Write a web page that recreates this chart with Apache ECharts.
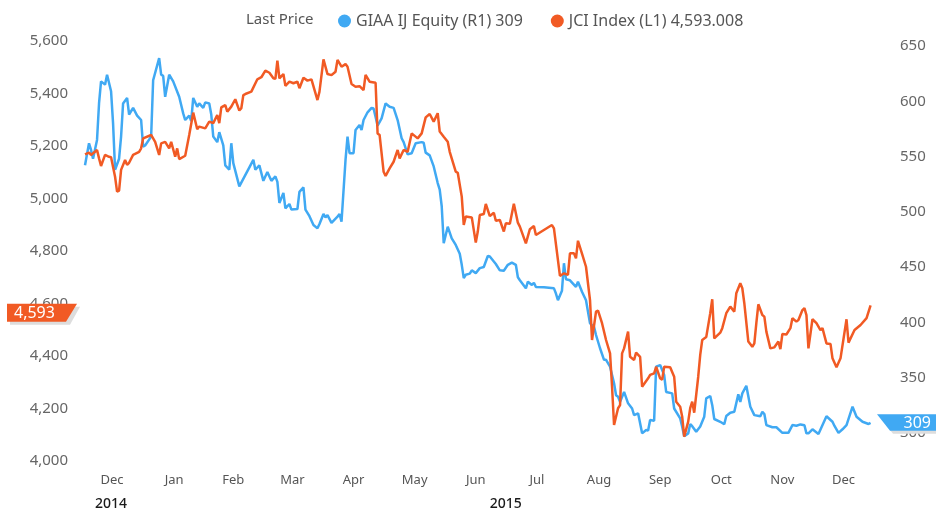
<!DOCTYPE html>
<html>
<head>
<meta charset="utf-8">
<title>GIAA IJ Equity vs JCI Index</title>
<script src="https://cdn.jsdelivr.net/npm/echarts/dist/echarts.min.js"></script>
<style>
    html, body { margin: 0; padding: 0; background: #fff; }
    #chart { width: 936px; height: 513px; }
</style>
</head>
<body>
<div id="chart"></div>
<script>
// 图例与标签
var legendTitle = 'Last Price';
var giaaName = 'GIAA IJ Equity (R1) 309';
var jciName = 'JCI Index (L1) 4,593.008';
var monthNames = ['Jan', 'Feb', 'Mar', 'Apr', 'May', 'Jun', 'Jul', 'Aug', 'Sep', 'Oct', 'Nov', 'Dec'];
var yearLabels = [['2014-12-16', '2014'], ['2015-07-01', '2015']];
var rightTicks = [300, 350, 400, 450, 500, 550, 600, 650];
var jciLast = 4593.008;
var giaaLast = 309;

// GIAA IJ Equity (右轴)
var giaaData = [
    ['2014-12-03', 542], ['2014-12-05', 562], ['2014-12-06', 556], ['2014-12-07', 548], ['2014-12-09', 565], ['2014-12-10', 598],
    ['2014-12-11', 618], ['2014-12-13', 615], ['2014-12-14', 624], ['2014-12-16', 609], ['2014-12-17', 580], ['2014-12-18', 538],
    ['2014-12-20', 548], ['2014-12-21', 568], ['2014-12-22', 598], ['2014-12-24', 603], ['2014-12-25', 588], ['2014-12-27', 594],
    ['2014-12-29', 587], ['2014-12-31', 583],
    ['2015-01-01', 559], ['2015-01-02', 560], ['2015-01-05', 568], ['2015-01-06', 619], ['2015-01-09', 639], ['2015-01-10', 624],
    ['2015-01-11', 623], ['2015-01-12', 604], ['2015-01-14', 624], ['2015-01-16', 618], ['2015-01-19', 604], ['2015-01-21', 589],
    ['2015-01-22', 583], ['2015-01-24', 587], ['2015-01-25', 582], ['2015-01-26', 603], ['2015-01-28', 595], ['2015-01-29', 598],
    ['2015-01-31', 594],
    ['2015-02-01', 599], ['2015-02-03', 598], ['2015-02-04', 588], ['2015-02-05', 568], ['2015-02-07', 563], ['2015-02-08', 572],
    ['2015-02-10', 560], ['2015-02-11', 542], ['2015-02-13', 538], ['2015-02-14', 562], ['2015-02-15', 544], ['2015-02-18', 523],
    ['2015-02-25', 547], ['2015-02-26', 538], ['2015-02-28', 542],
    ['2015-03-02', 528], ['2015-03-04', 536], ['2015-03-06', 528], ['2015-03-08', 532], ['2015-03-09', 527], ['2015-03-10', 508],
    ['2015-03-12', 517], ['2015-03-13', 503], ['2015-03-15', 507], ['2015-03-16', 502], ['2015-03-19', 502.5], ['2015-03-20', 518],
    ['2015-03-22', 522], ['2015-03-23', 502], ['2015-03-25', 496], ['2015-03-27', 488], ['2015-03-29', 485], ['2015-03-30', 489],
    ['2015-04-01', 498], ['2015-04-02', 495], ['2015-04-03', 497], ['2015-04-05', 490], ['2015-04-08', 495.5], ['2015-04-09', 498],
    ['2015-04-10', 491], ['2015-04-12', 547], ['2015-04-13', 568], ['2015-04-14', 553], ['2015-04-16', 553], ['2015-04-17', 574],
    ['2015-04-19', 578.5], ['2015-04-20', 574], ['2015-04-21', 583], ['2015-04-23', 590], ['2015-04-25', 594], ['2015-04-26', 593.5],
    ['2015-04-28', 578], ['2015-04-30', 584.5],
    ['2015-05-02', 598], ['2015-05-04', 595], ['2015-05-06', 594], ['2015-05-08', 583], ['2015-05-10', 566.5], ['2015-05-11', 563],
    ['2015-05-13', 552], ['2015-05-15', 553], ['2015-05-17', 562], ['2015-05-20', 563], ['2015-05-21', 562.5], ['2015-05-22', 553.5],
    ['2015-05-24', 551], ['2015-05-26', 541], ['2015-05-28', 526], ['2015-05-29', 520], ['2015-05-30', 505], ['2015-05-31', 471.5],
    ['2015-06-02', 486.5], ['2015-06-04', 476], ['2015-06-06', 470], ['2015-06-08', 462], ['2015-06-09', 452], ['2015-06-10', 440],
    ['2015-06-11', 443], ['2015-06-13', 444], ['2015-06-14', 447], ['2015-06-16', 444.5], ['2015-06-18', 449], ['2015-06-20', 450],
    ['2015-06-22', 460], ['2015-06-23', 459.5], ['2015-06-25', 455], ['2015-06-26', 452.7], ['2015-06-28', 447], ['2015-06-30', 446.7],
    ['2015-07-02', 452], ['2015-07-04', 454], ['2015-07-06', 452], ['2015-07-07', 440.7], ['2015-07-08', 438], ['2015-07-11', 430.7],
    ['2015-07-12', 436.7], ['2015-07-14', 433.7], ['2015-07-15', 435.8], ['2015-07-16', 432], ['2015-07-20', 431.7], ['2015-07-25', 430.7],
    ['2015-07-26', 426], ['2015-07-27', 420], ['2015-07-29', 428.5], ['2015-07-30', 453.4], ['2015-07-31', 439],
    ['2015-08-02', 438], ['2015-08-05', 432], ['2015-08-06', 436.7], ['2015-08-08', 427.7], ['2015-08-10', 420], ['2015-08-12', 399],
    ['2015-08-14', 396], ['2015-08-15', 388.5], ['2015-08-17', 376.5], ['2015-08-19', 366], ['2015-08-20', 366], ['2015-08-22', 359.8],
    ['2015-08-24', 344.8], ['2015-08-25', 334], ['2015-08-26', 332.6], ['2015-08-27', 328], ['2015-08-29', 337], ['2015-08-31', 326.7],
    ['2015-09-02', 322], ['2015-09-03', 316], ['2015-09-05', 317.6], ['2015-09-07', 299.5], ['2015-09-09', 302.5], ['2015-09-10', 302],
    ['2015-09-11', 311.6], ['2015-09-13', 311], ['2015-09-14', 359.8], ['2015-09-16', 361.3], ['2015-09-18', 352.3], ['2015-09-19', 337],
    ['2015-09-22', 335.7], ['2015-09-23', 322], ['2015-09-26', 313], ['2015-09-27', 305.5], ['2015-09-28', 297], ['2015-09-30', 299.5],
    ['2015-10-01', 308], ['2015-10-02', 306], ['2015-10-04', 301], ['2015-10-06', 305.7], ['2015-10-08', 314.6], ['2015-10-09', 331.2],
    ['2015-10-11', 333.3], ['2015-10-12', 325], ['2015-10-13', 312.5], ['2015-10-16', 310], ['2015-10-18', 307.7], ['2015-10-19', 315.2],
    ['2015-10-21', 318.2], ['2015-10-23', 319], ['2015-10-25', 334.8], ['2015-10-26', 328], ['2015-10-27', 335.7], ['2015-10-29', 342.6],
    ['2015-10-31', 323.6],
    ['2015-11-02', 316], ['2015-11-05', 315], ['2015-11-06', 319], ['2015-11-07', 317], ['2015-11-08', 307], ['2015-11-11', 305],
    ['2015-11-13', 305], ['2015-11-16', 300], ['2015-11-19', 300], ['2015-11-21', 307], ['2015-11-23', 306.4], ['2015-11-25', 307.6],
    ['2015-11-27', 306.8], ['2015-11-28', 299.5], ['2015-11-29', 299.5],
    ['2015-12-01', 303.2], ['2015-12-04', 299], ['2015-12-08', 315], ['2015-12-11', 310], ['2015-12-12', 306.2], ['2015-12-14', 300],
    ['2015-12-16', 303.2], ['2015-12-18', 307], ['2015-12-21', 323.6], ['2015-12-23', 314.6], ['2015-12-26', 310], ['2015-12-29', 308],
    ['2015-12-30', 309]
];

// JCI Index (左轴)
var jciData = [
    ['2014-12-03', 5168], ['2014-12-05', 5175], ['2014-12-06', 5166], ['2014-12-09', 5185], ['2014-12-10', 5153], ['2014-12-11', 5124],
    ['2014-12-13', 5166], ['2014-12-15', 5159], ['2014-12-16', 5157], ['2014-12-18', 5083], ['2014-12-19', 5026], ['2014-12-20', 5030],
    ['2014-12-21', 5109], ['2014-12-23', 5147], ['2014-12-24', 5128], ['2014-12-25', 5136], ['2014-12-27', 5166], ['2014-12-30', 5178],
    ['2014-12-31', 5191],
    ['2015-01-01', 5229], ['2015-01-05', 5242], ['2015-01-07', 5216], ['2015-01-09', 5166], ['2015-01-10', 5210], ['2015-01-12', 5216],
    ['2015-01-14', 5191], ['2015-01-15', 5216], ['2015-01-17', 5159], ['2015-01-18', 5191], ['2015-01-19', 5150], ['2015-01-22', 5163],
    ['2015-01-24', 5242], ['2015-01-26', 5327], ['2015-01-28', 5264], ['2015-01-29', 5274],
    ['2015-02-01', 5267], ['2015-02-03', 5293], ['2015-02-05', 5287], ['2015-02-07', 5318], ['2015-02-08', 5287], ['2015-02-09', 5347],
    ['2015-02-11', 5356], ['2015-02-12', 5331], ['2015-02-14', 5350], ['2015-02-16', 5378], ['2015-02-18', 5335], ['2015-02-19', 5344],
    ['2015-02-20', 5394], ['2015-02-21', 5398], ['2015-02-24', 5407], ['2015-02-27', 5454],
    ['2015-03-01', 5462], ['2015-03-03', 5487], ['2015-03-05', 5479], ['2015-03-07', 5458], ['2015-03-08', 5456], ['2015-03-09', 5525],
    ['2015-03-10', 5458], ['2015-03-12', 5474], ['2015-03-13', 5429], ['2015-03-15', 5445], ['2015-03-17', 5439], ['2015-03-19', 5445],
    ['2015-03-20', 5420], ['2015-03-22', 5460], ['2015-03-24', 5449], ['2015-03-26', 5454], ['2015-03-29', 5375], ['2015-03-30', 5407],
    ['2015-04-01', 5530], ['2015-04-03', 5474], ['2015-04-05', 5470], ['2015-04-07', 5483], ['2015-04-08', 5528], ['2015-04-10', 5502],
    ['2015-04-12', 5512], ['2015-04-13', 5502], ['2015-04-15', 5436], ['2015-04-17', 5426], ['2015-04-19', 5428], ['2015-04-21', 5413],
    ['2015-04-22', 5471], ['2015-04-24', 5445], ['2015-04-27', 5441], ['2015-04-28', 5248], ['2015-04-29', 5242],
    ['2015-05-01', 5102], ['2015-05-02', 5086], ['2015-05-04', 5115], ['2015-05-06', 5140], ['2015-05-08', 5185], ['2015-05-09', 5153],
    ['2015-05-11', 5185], ['2015-05-13', 5178], ['2015-05-15', 5248], ['2015-05-18', 5229], ['2015-05-20', 5248], ['2015-05-22', 5309],
    ['2015-05-24', 5322], ['2015-05-26', 5293], ['2015-05-28', 5325], ['2015-05-29', 5255], ['2015-05-31', 5235],
    ['2015-06-02', 5216], ['2015-06-03', 5178], ['2015-06-06', 5102], ['2015-06-07', 5098], ['2015-06-09', 5007], ['2015-06-10', 4899],
    ['2015-06-11', 4931], ['2015-06-14', 4928], ['2015-06-16', 4832], ['2015-06-17', 4874], ['2015-06-18', 4937], ['2015-06-20', 4941],
    ['2015-06-21', 4979], ['2015-06-23', 4933], ['2015-06-25', 4946], ['2015-06-26', 4915], ['2015-06-28', 4918], ['2015-06-30', 4874],
    ['2015-07-01', 4906], ['2015-07-03', 4904], ['2015-07-05', 4980], ['2015-07-07', 4908], ['2015-07-08', 4893], ['2015-07-11', 4829],
    ['2015-07-13', 4883], ['2015-07-15', 4895], ['2015-07-16', 4861], ['2015-07-24', 4899], ['2015-07-25', 4886], ['2015-07-28', 4705],
    ['2015-07-30', 4715],
    ['2015-08-01', 4709], ['2015-08-02', 4791], ['2015-08-04', 4791], ['2015-08-05', 4772], ['2015-08-06', 4839], ['2015-08-08', 4790],
    ['2015-08-10', 4740], ['2015-08-12', 4613], ['2015-08-13', 4461], ['2015-08-15', 4569], ['2015-08-16', 4573], ['2015-08-18', 4525],
    ['2015-08-20', 4461], ['2015-08-22', 4410], ['2015-08-23', 4283], ['2015-08-24', 4137], ['2015-08-26', 4201], ['2015-08-27', 4213],
    ['2015-08-28', 4410], ['2015-08-29', 4429], ['2015-08-31', 4493],
    ['2015-09-01', 4397], ['2015-09-03', 4385], ['2015-09-04', 4413], ['2015-09-06', 4397], ['2015-09-07', 4283], ['2015-09-10', 4315],
    ['2015-09-11', 4328], ['2015-09-13', 4334], ['2015-09-14', 4359], ['2015-09-16', 4315], ['2015-09-17', 4309], ['2015-09-18', 4359],
    ['2015-09-21', 4357], ['2015-09-23', 4321], ['2015-09-24', 4226], ['2015-09-26', 4207], ['2015-09-27', 4169], ['2015-09-28', 4093],
    ['2015-09-30', 4150],
    ['2015-10-01', 4201], ['2015-10-02', 4226], ['2015-10-03', 4184], ['2015-10-05', 4321], ['2015-10-06', 4404], ['2015-10-07', 4461],
    ['2015-10-09', 4472], ['2015-10-11', 4563], ['2015-10-12', 4616], ['2015-10-13', 4467], ['2015-10-16', 4489], ['2015-10-17', 4506],
    ['2015-10-19', 4563], ['2015-10-21', 4588], ['2015-10-23', 4569], ['2015-10-24', 4639], ['2015-10-26', 4677], ['2015-10-27', 4658],
    ['2015-10-28', 4601], ['2015-10-30', 4455],
    ['2015-11-01', 4435], ['2015-11-02', 4448], ['2015-11-03', 4525], ['2015-11-04', 4597], ['2015-11-06', 4556], ['2015-11-07', 4550],
    ['2015-11-08', 4493], ['2015-11-10', 4429], ['2015-11-12', 4433], ['2015-11-14', 4455], ['2015-11-15', 4426], ['2015-11-16', 4484],
    ['2015-11-18', 4482], ['2015-11-20', 4506], ['2015-11-21', 4544], ['2015-11-23', 4531], ['2015-11-24', 4537], ['2015-11-26', 4575],
    ['2015-11-27', 4582], ['2015-11-28', 4556], ['2015-11-29', 4429],
    ['2015-12-01', 4540], ['2015-12-03', 4525], ['2015-12-05', 4499], ['2015-12-06', 4506], ['2015-12-08', 4448], ['2015-12-10', 4446],
    ['2015-12-11', 4391], ['2015-12-13', 4357], ['2015-12-15', 4391], ['2015-12-18', 4540], ['2015-12-19', 4451], ['2015-12-22', 4499],
    ['2015-12-25', 4518], ['2015-12-28', 4544], ['2015-12-30', 4593.008]
];

var BLUE = '#40a9f3';
var ORANGE = '#f15a24';
var FONT = 'Noto Sans';

/**
 * @description 'YYYY-MM-DD' 转为本地时间戳
 */
function toTime(s) {
    var p = s.split('-');
    return new Date(+p[0], +p[1] - 1, +p[2]).getTime();
}

/**
 * @description 月份中点作为刻度位置
 */
function monthMiddles() {
    var list = [];
    for (var i = 0; i < 13; i++) {
        var y = 2014 + Math.floor((11 + i) / 12), m = (11 + i) % 12;
        var start = new Date(y, m, 1).getTime();
        var end = new Date(y, m + 1, 1).getTime();
        list.push((start + end) / 2);
    }
    return list;
}

function toSeries(list) {
    return list.map(function (d) {
        return [toTime(d[0]), d[1]];
    });
}

var xMin = new Date(2014, 10, 30, 12).getTime();
var xMax = new Date(2016, 0, 3, 17).getTime();
var yearTimes = yearLabels.map(function (d) { return toTime(d[0]); });

var chartDom = document.getElementById('chart');
var myChart = echarts.init(chartDom, null, {renderer: 'canvas'});

var option = {
    animation: false,
    textStyle: {fontFamily: FONT},
    title: {
        text: legendTitle,
        left: 241,
        top: 7,
        textStyle: {fontSize: 15, fontWeight: 'normal', color: '#555', fontFamily: FONT}
    },
    legend: {
        left: 333,
        top: 8,
        icon: 'circle',
        itemWidth: 13,
        itemHeight: 13,
        itemGap: 28,
        data: [giaaName, jciName],
        textStyle: {fontSize: 16, color: '#555', fontFamily: FONT}
    },
    grid: {left: 80, right: 56, top: 41, bottom: 52},
    xAxis: [{
        type: 'value',
        min: xMin,
        max: xMax,
        axisLine: {show: false},
        axisTick: {show: false},
        splitLine: {show: false},
        axisLabel: {
            customValues: monthMiddles(),
            margin: 13,
            fontSize: 13,
            color: '#555',
            fontFamily: FONT,
            formatter: function (v) {
                return monthNames[new Date(v).getMonth()];
            }
        }
    }, {
        type: 'value',
        min: xMin,
        max: xMax,
        position: 'bottom',
        offset: 23,
        axisLine: {show: false},
        axisTick: {show: false},
        splitLine: {show: false},
        axisLabel: {
            customValues: yearTimes,
            margin: 13,
            fontSize: 14,
            fontWeight: 500,
            color: '#1a1a1a',
            fontFamily: FONT,
            formatter: function (v) {
                var i = yearTimes.indexOf(v);
                return i >= 0 ? yearLabels[i][1] : '';
            }
        }
    }],
    yAxis: [{
        type: 'value',
        position: 'left',
        min: 4000,
        max: 5600,
        interval: 200,
        axisLine: {show: false},
        axisTick: {show: false},
        splitLine: {show: false},
        axisLabel: {
            margin: 12,
            fontSize: 15,
            color: '#666',
            fontFamily: FONT,
            formatter: function (v) { return v.toLocaleString('en-US'); }
        }
    }, {
        type: 'value',
        position: 'right',
        min: 274.5,
        max: 654.5,
        axisLine: {show: false},
        axisTick: {show: false},
        splitLine: {show: false},
        axisLabel: {
            customValues: rightTicks,
            margin: 20,
            fontSize: 15,
            color: '#666',
            fontFamily: FONT
        }
    }],
    series: [{
        name: giaaName,
        type: 'line',
        xAxisIndex: 0,
        yAxisIndex: 1,
        data: toSeries(giaaData),
        showSymbol: false,
        color: BLUE,
        lineStyle: {width: 2.5, color: BLUE}
    }, {
        name: jciName,
        type: 'line',
        xAxisIndex: 0,
        yAxisIndex: 0,
        data: toSeries(jciData),
        showSymbol: false,
        color: ORANGE,
        lineStyle: {width: 2.5, color: ORANGE}
    }]
};
myChart.setOption(option, true);

/**
 * @description 左右两侧的最新价标签
 */
function lastPriceTags() {
    var yL = myChart.convertToPixel({yAxisIndex: 0}, jciLast);
    var yR = myChart.convertToPixel({yAxisIndex: 1}, giaaLast);
    var t = yL - 1.5, b = t + 18;
    var t2 = yR - 8.5, b2 = t2 + 16.5;
    myChart.setOption({
        graphic: [{
            type: 'polygon', z: 100,
            shape: {points: [[10, t + 3], [80, t + 3], [70, b + 3], [10, b + 3]]},
            style: {fill: '#dddddd'}
        }, {
            type: 'polygon', z: 101,
            shape: {points: [[7, t], [77, t], [66, b], [7, b]]},
            style: {fill: ORANGE}
        }, {
            type: 'text', z: 102,
            x: 14, y: (t + b) / 2 + 1,
            style: {
                text: Math.round(jciLast).toLocaleString('en-US'),
                fill: '#fff', fontSize: 16, fontFamily: FONT, verticalAlign: 'middle'
            }
        }, {
            type: 'polygon', z: 100,
            shape: {points: [[880, t2 + 3], [936, t2 + 3], [936, b2 + 3], [893, b2 + 3]]},
            style: {fill: '#dddddd'}
        }, {
            type: 'polygon', z: 101,
            shape: {points: [[877, t2], [936, t2], [936, b2], [890, b2]]},
            style: {fill: BLUE}
        }, {
            type: 'text', z: 102,
            x: 931, y: (t2 + b2) / 2 + 1,
            style: {
                text: String(giaaLast),
                fill: '#fff', fontSize: 16, fontFamily: FONT, align: 'right', verticalAlign: 'middle'
            }
        }]
    });
}
lastPriceTags();

window.addEventListener('resize', function () {
    myChart.resize();
});
</script>
</body>
</html>
